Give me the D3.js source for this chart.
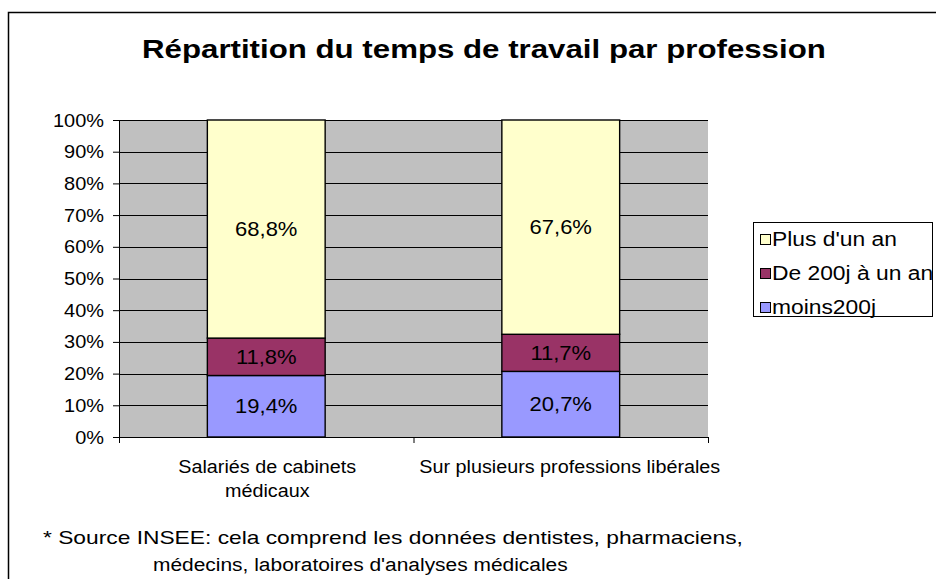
<!DOCTYPE html>
<html>
<head>
<meta charset="utf-8">
<script src="https://cdn.jsdelivr.net/npm/d3@7"></script>
<style>
  body { margin: 0; background: #fff; }
  svg text { font-family: Arial, "Liberation Sans", sans-serif; fill: #000; }
</style>
</head>
<body>
<div id="chart"></div>
<script>
// Data
const categories = ["Salariés de cabinets médicaux", "Sur plusieurs professions libérales"];
const categoryLines = [["Salariés de cabinets", "médicaux"], ["Sur plusieurs professions libérales"]];
const seriesNames = ["moins200j", "De 200j à un an", "Plus d'un an"];
const moins200j = [19.4, 20.7];
const de200jAUnAn = [11.8, 11.7];
const plusDunAn = [68.8, 67.6];
const yTicks = [0, 10, 20, 30, 40, 50, 60, 70, 80, 90, 100];
const colors = ["#9999FF", "#993366", "#FFFFCC"];

const W = 936, H = 579;
const plot = { left: 119, right: 708, top: 120, bottom: 437 };
const STRETCH = 1.13; // glyphs in the original are a bit wider than they are tall

const svg = d3.select("#chart").append("svg")
    .attr("width", W)
    .attr("height", H);

// text placed in a <g> so it can be widened horizontally
function addText(parent, x, y, str, size, anchor, opts = {}) {
    const g = parent.append("g").attr("transform", `translate(${x},${y})`);
    const t = g.append("text")
        .attr("text-anchor", anchor)
        .attr("font-size", size + "px")
        .attr("font-weight", opts.bold ? "bold" : null)
        .text(str);
    const k = opts.width ? opts.width / t.node().getComputedTextLength() : (opts.k || STRETCH);
    t.attr("transform", `scale(${k},1)`);
    return t;
}

// outer chart border (runs off the bottom/right of the picture)
svg.append("rect")
    .attr("x", 8.5).attr("y", 12.5)
    .attr("width", W).attr("height", H)
    .attr("fill", "#fff")
    .attr("stroke", "#000")
    .attr("stroke-width", 1.5);

// Title
addText(svg, 142, 58, "Répartition du temps de travail par profession", 26, "start", { bold: true, width: 684 });

const x = d3.scaleBand()
    .domain(categories)
    .range([plot.left, plot.right])
    .paddingInner(0.6)
    .paddingOuter(0.3);

const y = d3.scaleLinear()
    .domain([0, 100])
    .range([plot.bottom, plot.top]);

// plot area
svg.append("rect")
    .attr("x", plot.left).attr("y", plot.top)
    .attr("width", plot.right - plot.left)
    .attr("height", plot.bottom - plot.top)
    .attr("fill", "#C0C0C0");

// gridlines
svg.append("g")
    .selectAll("line")
    .data(yTicks.slice(1))
    .enter()
    .append("line")
    .attr("x1", plot.left).attr("x2", plot.right)
    .attr("y1", d => Math.round(y(d)) + 0.5)
    .attr("y2", d => Math.round(y(d)) + 0.5)
    .attr("stroke", "#000")
    .attr("stroke-width", 1);

// stacked data
const table = categories.map((c, i) => ({
    cat: c,
    "moins200j": moins200j[i],
    "De 200j à un an": de200jAUnAn[i],
    "Plus d'un an": plusDunAn[i]
}));
const stacked = d3.stack().keys(seriesNames)(table);

const layers = svg.append("g")
    .selectAll("g")
    .data(stacked)
    .enter()
    .append("g")
    .attr("fill", (d, i) => colors[i]);

layers.selectAll("rect")
    .data(d => d)
    .enter()
    .append("rect")
    .attr("x", d => x(d.data.cat))
    .attr("width", x.bandwidth())
    .attr("y", d => y(d[1]))
    .attr("height", d => y(d[0]) - y(d[1]))
    .attr("stroke", "#000")
    .attr("stroke-width", 1.4);

// data labels
const labelG = svg.append("g");
stacked.forEach(layer => {
    layer.forEach(v => {
        const cx = x(v.data.cat) + x.bandwidth() / 2;
        const cy = (y(v[0]) + y(v[1])) / 2 + 7;
        const str = d3.format(".1f")(v.data[layer.key]).replace(".", ",") + "%";
        addText(labelG, cx, cy, str, 20, "middle", { k: 1.1 });
    });
});

// y axis
const yAxis = svg.append("g")
    .attr("transform", `translate(${plot.left},0)`)
    .call(d3.axisLeft(y).tickValues(yTicks).tickSize(6).tickFormat(""));
yAxis.select(".domain").attr("stroke", "#000").attr("d", `M0.5,${plot.top}V${plot.bottom}`);
yAxis.selectAll(".tick line").attr("stroke", "#000");
yTicks.forEach(v => addText(svg, 104, y(v) + 6.5, v + "%", 17.5, "end", { k: 1.14 }));

// x axis line + category separators
svg.append("line")
    .attr("x1", plot.left).attr("x2", plot.right)
    .attr("y1", plot.bottom + 0.5).attr("y2", plot.bottom + 0.5)
    .attr("stroke", "#000");
svg.append("g")
    .selectAll("line")
    .data([0, 1, 2])
    .enter()
    .append("line")
    .attr("x1", i => plot.left + i * (plot.right - plot.left) / 2 + 0.5)
    .attr("x2", i => plot.left + i * (plot.right - plot.left) / 2 + 0.5)
    .attr("y1", plot.bottom).attr("y2", plot.bottom + 6)
    .attr("stroke", "#000");

// category labels
categoryLines.forEach((lines, i) => {
    const cx = x(categories[i]) + x.bandwidth() / 2 + (i === 0 ? 1 : 9);
    lines.forEach((ln, j) => addText(svg, cx, 473 + j * 24, ln, 17.5, "middle"));
});

// legend
const legend = svg.append("g").attr("transform", "translate(753,222)");
legend.append("rect")
    .attr("x", 0.5).attr("y", 0.5)
    .attr("width", 179).attr("height", 94)
    .attr("fill", "#fff")
    .attr("stroke", "#000");
const legendItems = seriesNames.slice().reverse();
const legendColors = colors.slice().reverse();
legendItems.forEach((name, i) => {
    const cy = 17 + i * 34;
    legend.append("rect")
        .attr("x", 7.5).attr("y", cy - 4.5)
        .attr("width", 10).attr("height", 10)
        .attr("fill", legendColors[i])
        .attr("stroke", "#000");
    addText(legend, 19, cy + 7, name, 19.5, "start", { k: 1.17 });
});

// footnote
addText(svg, 43, 544, "* Source INSEE: cela comprend les données dentistes, pharmaciens,", 19, "start", { width: 700 });
addText(svg, 153, 571, "médecins, laboratoires d'analyses médicales", 19, "start", { width: 415 });
</script>
</body>
</html>
